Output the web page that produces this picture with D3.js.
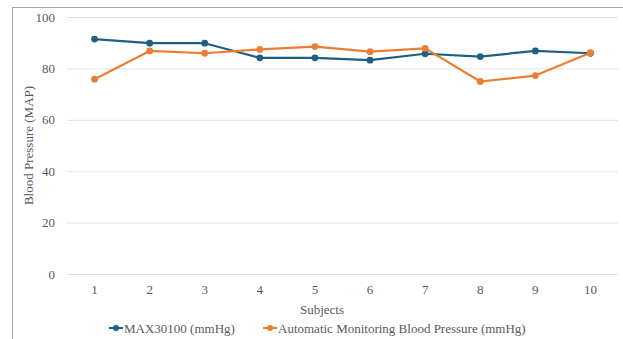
<!DOCTYPE html>
<html>
<head>
<meta charset="utf-8">
<script src="https://cdn.jsdelivr.net/npm/d3@7"></script>
<style>
  body { margin: 0; background: #fff; }
</style>
</head>
<body>
<div id="chart"></div>
<script>
// data
const subjects = ["1", "2", "3", "4", "5", "6", "7", "8", "9", "10"];
const max30100 = [91.4, 89.8, 89.8, 84.1, 84.1, 83.2, 85.7, 84.6, 86.8, 85.9];
const automatic = [75.8, 86.8, 85.9, 87.4, 88.5, 86.5, 87.8, 74.9, 77.2, 86.1];
const yTicks = [0, 20, 40, 60, 80, 100];
const seriesNames = ["MAX30100 (mmHg)", "Automatic Monitoring Blood Pressure (mmHg)"];
const seriesColors = ["#1f5f82", "#ed7d31"];

const FONT = '"Liberation Serif", "Times New Roman", serif';
const width = 623;
const height = 339;
const marginTop = 17;
const marginRight = 5;
const marginBottom = 65;
const marginLeft = 67;

const svg = d3
  .select("#chart")
  .append("svg")
  .attr("width", width)
  .attr("height", height);

// chart frame (only top + left edges visible in the crop)
svg
  .append("rect")
  .attr("x", 12.5)
  .attr("y", 7.5)
  .attr("width", 640)
  .attr("height", 360)
  .attr("fill", "none")
  .attr("stroke", "#a6a6a6")
  .attr("stroke-width", 1);

const x = d3
  .scaleBand()
  .domain(subjects)
  .range([marginLeft, width - marginRight])
  .padding(0);

const y = d3
  .scaleLinear()
  .domain([0, 100])
  .range([height - marginBottom, marginTop]);

// gridlines + y labels
svg
  .append("g")
  .attr("transform", `translate(${marginLeft},0)`)
  .call(
    d3.axisLeft(y).tickValues(yTicks).tickSize(-(width - marginRight - marginLeft)).tickPadding(12)
  )
  .call((g) => g.select(".domain").remove())
  .call((g) => g.selectAll(".tick line").attr("stroke", "#e3e3e3"));

// x labels
svg
  .append("g")
  .attr("transform", `translate(0,${height - marginBottom})`)
  .call(d3.axisBottom(x).tickSize(0).tickPadding(11))
  .call((g) => g.select(".domain").remove());

// axis titles
svg
  .append("text")
  .attr("transform", `translate(33,${(marginTop + height - marginBottom) / 2}) rotate(-90)`)
  .attr("text-anchor", "middle")
  .text("Blood Pressure (MAP)");

svg
  .append("text")
  .attr("x", 322)
  .attr("y", 314)
  .attr("text-anchor", "middle")
  .text("Subjects");

// series
const series = [max30100, automatic];
const line = d3
  .line()
  .x((d, i) => x(subjects[i]) + x.bandwidth() / 2)
  .y((d) => y(d));

series.forEach((vals, k) => {
  const g = svg.append("g");
  g.append("path")
    .datum(vals)
    .attr("fill", "none")
    .attr("stroke", seriesColors[k])
    .attr("stroke-width", 2.2)
    .attr("stroke-linejoin", "round")
    .attr("d", line);
  g.selectAll("circle")
    .data(vals)
    .join("circle")
    .attr("cx", (d, i) => x(subjects[i]) + x.bandwidth() / 2)
    .attr("cy", (d) => y(d))
    .attr("r", 3.4)
    .attr("fill", seriesColors[k]);
});

// legend
const legendX = [109, 263];
const legend = svg
  .append("g")
  .selectAll("g")
  .data(seriesNames)
  .join("g")
  .attr("transform", (d, i) => `translate(${legendX[i]},328)`);

legend
  .append("line")
  .attr("x1", 0)
  .attr("x2", 14)
  .attr("stroke", (d, i) => seriesColors[i])
  .attr("stroke-width", 2.2);
legend
  .append("circle")
  .attr("cx", 7)
  .attr("r", 3)
  .attr("fill", (d, i) => seriesColors[i]);
legend
  .append("text")
  .attr("x", 15)
  .attr("dy", "0.35em")
  .text((d) => d);

// same serif face for every label
svg
  .selectAll("text")
  .style("font-family", FONT)
  .style("font-size", "13px")
  .style("fill", "#595959");
</script>
</body>
</html>
